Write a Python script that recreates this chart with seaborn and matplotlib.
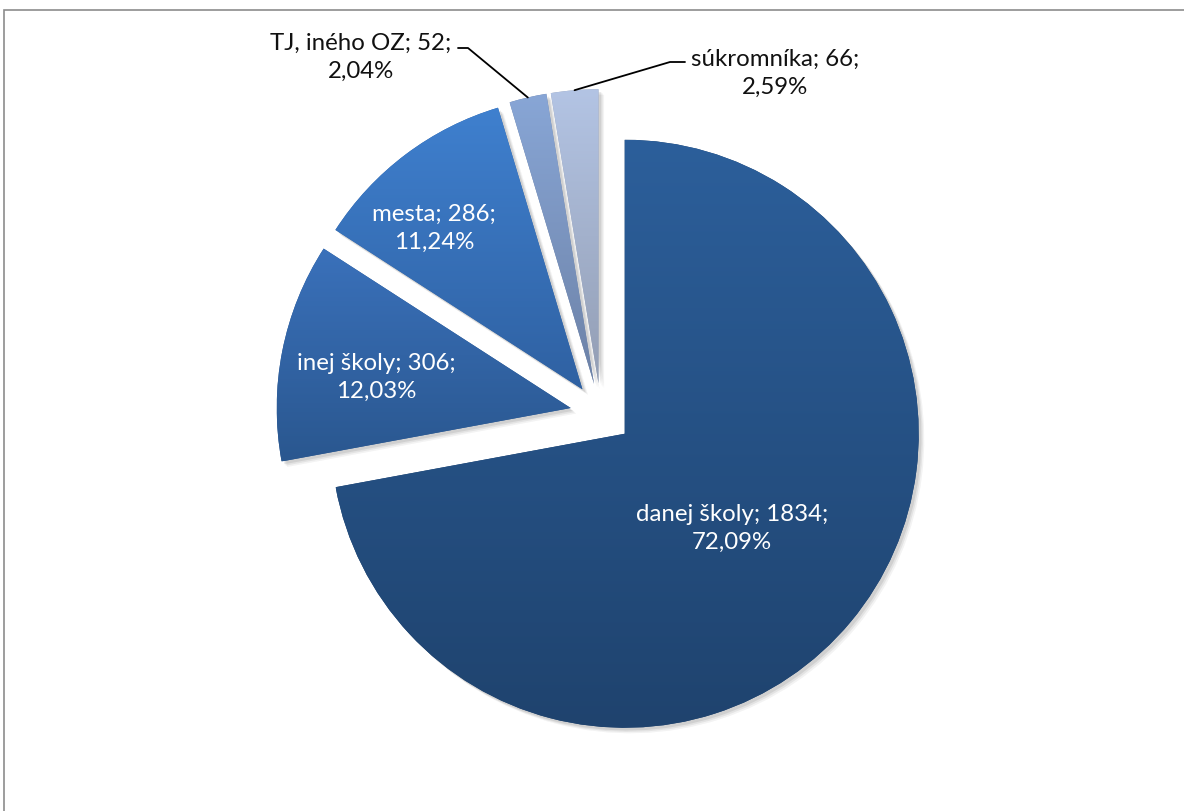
import numpy as np
import matplotlib
matplotlib.use("Agg")
import matplotlib.pyplot as plt
import matplotlib.patheffects as pe
from matplotlib.colors import LinearSegmentedColormap
import seaborn as sns

# data (clockwise from 12 o'clock)
categories = ["danej školy", "inej školy", "mesta", "TJ, iného OZ", "súkromníka"]
counts = [1834, 306, 286, 52, 66]
percents = ["72,09%", "12,03%", "11,24%", "2,04%", "2,59%"]

# per-slice vertical gradient (top -> bottom)
top_colors = ["#2c5f9b", "#3a71bb", "#3f80cf", "#88a6d6", "#b3c4e4"]
bottom_colors = ["#1f436e", "#2a578f", "#2f61a2", "#6d82a7", "#939eb4"]

# layout in pixels
W, H = 1184, 812
CX, CY, R = 601, 415, 294
EXPLODE = 0.105


def px(x, y):
    return (x - CX) / R, (CY - y) / R


sns.set_theme(style="white")
plt.rcParams["font.family"] = ["Lato", "DejaVu Sans"]

fig = plt.figure(figsize=(W / 100, H / 100), dpi=100)
ax = fig.add_axes([0, 0, 1, 1])

wedges, _ = ax.pie(counts, explode=[EXPLODE] * len(counts), startangle=90,
                   counterclock=False, radius=1, colors=bottom_colors,
                   wedgeprops=dict(linewidth=0))

shadow = [pe.SimplePatchShadow(offset=(o, -o), shadow_rgbFace="k", alpha=a)
          for o, a in [(4, 0.05), (3, 0.07), (2, 0.09)]] + [pe.Normal()]

grad = np.linspace(0, 1, 256).reshape(-1, 1)
for w, c_top, c_bot in zip(wedges, top_colors, bottom_colors):
    w.set_path_effects(shadow)
    w.set_zorder(1)
    ext = w.get_path().get_extents()
    cmap = LinearSegmentedColormap.from_list("g", [c_bot, c_top])
    im = ax.imshow(grad, cmap=cmap, origin="lower", aspect="auto",
                   extent=[ext.x0, ext.x1, ext.y0, ext.y1], zorder=2)
    im.set_clip_path(w)

ax.set_xlim(-CX / R, (W - CX) / R)
ax.set_ylim(-(H - CY) / R, CY / R)
ax.set_aspect("auto")
ax.axis("off")

labels = [f"{c}; {n};\n{p}" for c, n, p in zip(categories, counts, percents)]

# inside labels
inside_pos = [(732, 528), (376, 377), (434, 228)]
for lab, (x, y) in zip(labels[:3], inside_pos):
    ax.text(*px(x, y), lab, ha="center", va="center", color="white",
            fontsize=17.3, linespacing=1.4, zorder=5)

# outside labels with leader lines
outside_pos = [(361, 57), (775, 73)]
bends = [[(468, 49), (458, 49)], [(670, 63), (685, 63)]]
for w, lab, (x, y), bend in zip(wedges[3:], labels[3:], outside_pos, bends):
    mid = np.deg2rad((w.theta1 + w.theta2) / 2)
    ax0 = w.center[0] + w.r * np.cos(mid)
    ay0 = w.center[1] + w.r * np.sin(mid)
    pts = [(ax0, ay0)] + [px(bx, by) for bx, by in bend]
    ax.plot([p[0] for p in pts], [p[1] for p in pts], color="black", lw=1.3, zorder=4)
    ax.text(*px(x, y), lab, ha="center", va="center", color="#111111",
            fontsize=17.3, linespacing=1.4, zorder=5)

# chart area frame (cut off at right and bottom)
fig.add_artist(plt.Rectangle((4 / W, -0.1), 1.2, 1.1 - 11 / H,
                             transform=fig.transFigure, fill=False,
                             edgecolor="#8c8c8c", lw=1.2))

fig.savefig("out.png", dpi=100)
